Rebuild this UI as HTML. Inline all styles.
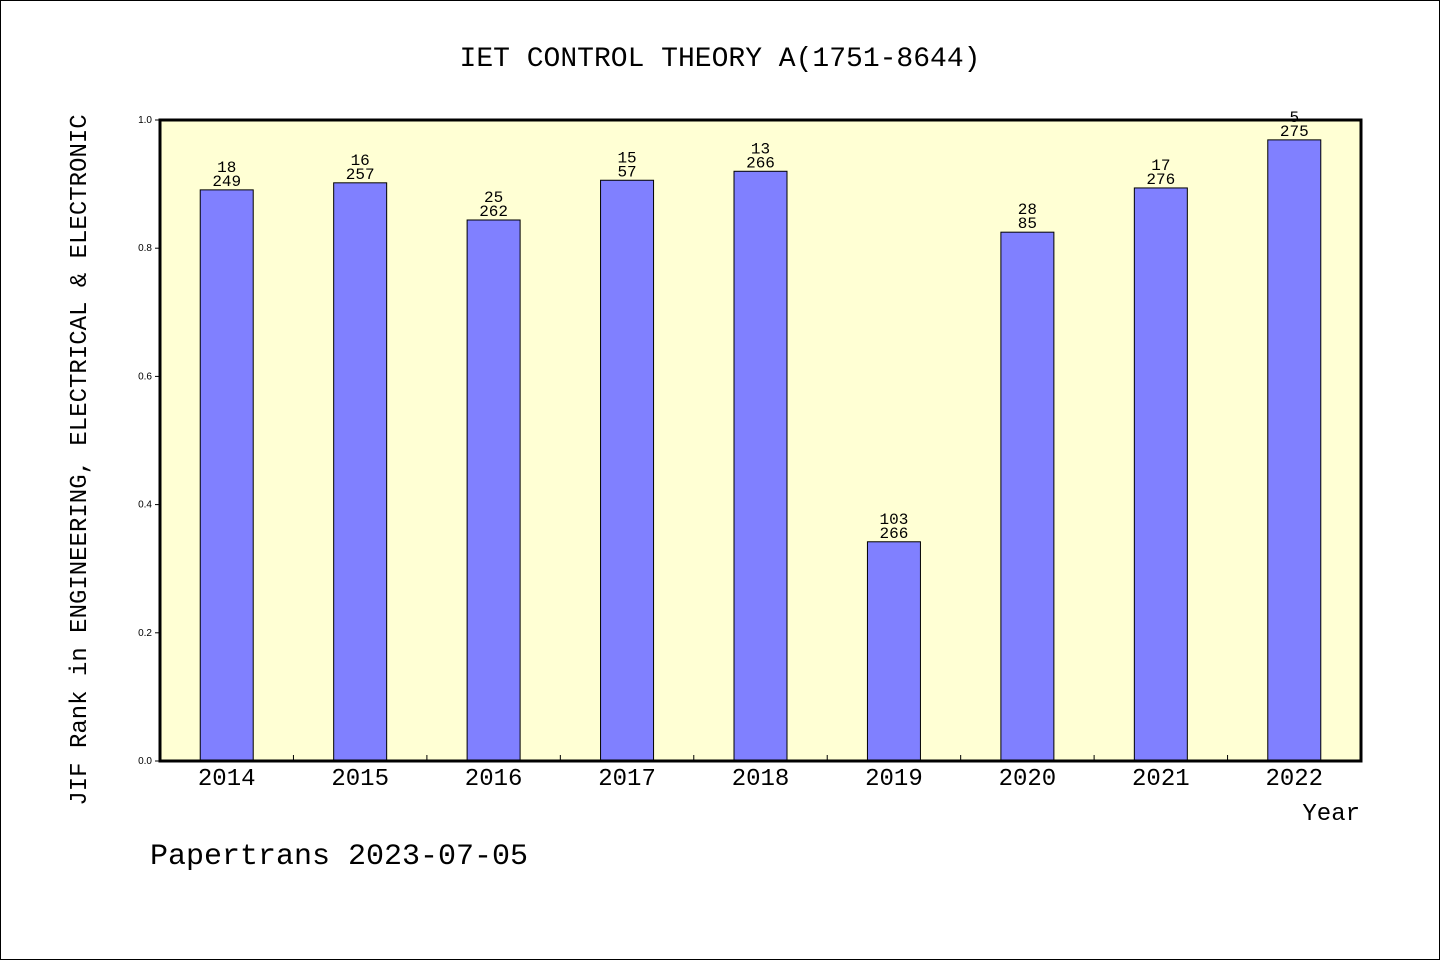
<!DOCTYPE html>
<html><head><meta charset="utf-8"><style>
body{margin:0;background:#fff}
svg{display:block;font-family:"Liberation Mono","DejaVu Sans Mono",monospace}
</style></head><body>
<svg id="chart" width="1440" height="960" viewBox="0 0 1440 960">
<rect x="0.5" y="0.5" width="1439" height="959" fill="#fff" stroke="#000"/>
<text x="720" y="66" text-anchor="middle" font-size="28">IET CONTROL THEORY A(1751-8644)</text>
<rect x="160" y="120" width="1201" height="641" fill="#ffffd4"/>
<g id="bars"></g>
<g id="axes"></g>
<rect x="160" y="120" width="1201" height="641" fill="none" stroke="#000" stroke-width="3"/>
<text transform="translate(86,460) rotate(-90)" text-anchor="middle" font-size="24">JIF Rank in ENGINEERING, ELECTRICAL &amp; ELECTRONIC</text>
<text x="1360" y="820" text-anchor="end" font-size="24">Year</text>
<text x="150" y="864" font-size="30">Papertrans 2023-07-05</text>
</svg>
<script>
const years=["2014","2015","2016","2017","2018","2019","2020","2021","2022"];
const values=[0.891,0.902,0.844,0.906,0.920,0.342,0.825,0.894,0.969];
const ranks=["18","16","25","15","13","103","28","17","5"];
const totals=["249","257","262","57","266","266","85","276","275"];
const yTicks=[0,0.2,0.4,0.6,0.8,1.0];
const NS="http://www.w3.org/2000/svg";
const L=160,R=1361,T=120,B=761;
const slot=(R-L)/years.length;
const xc=i=>L+slot*(i+0.5);
const y=v=>B-(B-T)*v;
function mk(tag,attrs,txt){const e=document.createElementNS(NS,tag);for(const k in attrs)e.setAttribute(k,attrs[k]);if(txt!=null)e.textContent=txt;return e;}
const bars=document.getElementById('bars'),axes=document.getElementById('axes');
years.forEach((yr,i)=>{
  const r=mk('rect',{x:xc(i)-26.5,y:y(values[i]),width:53,height:B-y(values[i]),fill:'#8080ff',stroke:'#000','stroke-width':1});
  
  
  bars.appendChild(r);
  const t1=mk('text',{x:xc(i),y:y(values[i])-18,'text-anchor':'middle','font-size':16},ranks[i]);
  
  
  bars.appendChild(t1);
  const t2=mk('text',{x:xc(i),y:y(values[i])-4,'text-anchor':'middle','font-size':16},totals[i]);
  
  
  bars.appendChild(t2);
  const xl=mk('text',{x:xc(i),y:785,'text-anchor':'middle','font-size':24},yr);
  
  
  axes.appendChild(xl);
  if(i>0){const tk=mk('line',{x1:L+slot*i,x2:L+slot*i,y1:B,y2:B-6,stroke:'#000'});
  
  
  axes.appendChild(tk);}
});
yTicks.forEach(v=>{
  const tl=mk('text',{x:152,y:y(v)+3,'text-anchor':'end','font-size':10,'font-family':'Liberation Sans, sans-serif'},v.toFixed(1));
  
  
  axes.appendChild(tl);
  const tk=mk('line',{x1:L-5,x2:L,y1:y(v),y2:y(v),stroke:'#000'});
  
  
  axes.appendChild(tk);
});
</script>
</body></html>
